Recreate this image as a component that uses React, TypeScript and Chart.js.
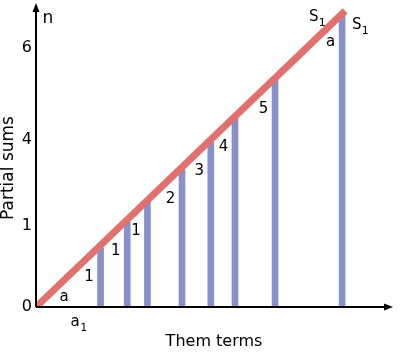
import React, { useEffect, useRef } from "react";
import { Chart, registerables } from "chart.js";

Chart.register(...registerables);

// ---- data ----
const barX = [2.11, 2.98, 3.64, 4.77, 5.71, 6.5, 7.81, 10.0];
const barY = [2.01, 2.9, 3.58, 4.68, 5.63, 6.45, 7.75, 10.03];
const barLabels = ["1", "1", "1", "2", "3", "4", "5", "a"];
const lineX = [0, 10.1];
const lineY = [0, 10.1];
const yTickValues = [0, 2.76, 5.7, 8.84];
const yTickLabels = ["0", "1", "4", "6"];
const xTitle = "Them terms";
const yTitle = "Partial sums";
const noteText = ["n", "a", "a", "S", "S"];
const noteSub = ["", "", "1", "1", "1"];
const noteX = [0.39, 0.92, 1.28, 9.07, 10.48];
const noteY = [9.83, 0.34, -0.5, 9.9, 9.62];

const FONT = "'DejaVu Sans', sans-serif";

const decorPlugin = {
  id: "decor",
  afterDraw(chart: any) {
    const { ctx, chartArea, scales } = chart;
    const xs = scales.x;
    const ys = scales.y;
    const x0 = xs.getPixelForValue(0);
    const y0 = ys.getPixelForValue(0);
    ctx.save();
    // axes with arrows
    ctx.strokeStyle = "#000";
    ctx.fillStyle = "#000";
    ctx.lineWidth = 2;
    ctx.beginPath();
    ctx.moveTo(x0, y0);
    ctx.lineTo(chartArea.right - 6, y0);
    ctx.moveTo(x0, y0);
    ctx.lineTo(x0, chartArea.top + 5);
    ctx.stroke();
    ctx.beginPath();
    ctx.moveTo(chartArea.right + 1, y0);
    ctx.lineTo(chartArea.right - 8, y0 - 3.5);
    ctx.lineTo(chartArea.right - 8, y0 + 3.5);
    ctx.closePath();
    ctx.fill();
    ctx.beginPath();
    ctx.moveTo(x0, chartArea.top - 2);
    ctx.lineTo(x0 - 3.5, chartArea.top + 7);
    ctx.lineTo(x0 + 3.5, chartArea.top + 7);
    ctx.closePath();
    ctx.fill();

    // bar labels
    ctx.textAlign = "center";
    ctx.textBaseline = "middle";
    ctx.font = `15px ${FONT}`;
    const meta = chart.getDatasetMeta(1);
    meta.data.forEach((el: any, i: number) => {
      ctx.fillText(barLabels[i], el.x - 11.5, el.y + 29);
    });

    // notes
    noteText.forEach((t, i) => {
      const px = xs.getPixelForValue(noteX[i]);
      const py = ys.getPixelForValue(noteY[i]);
      ctx.font = t === "n" ? `17px ${FONT}` : `15px ${FONT}`;
      ctx.fillText(t, px, py);
      if (noteSub[i]) {
        ctx.font = `11px ${FONT}`;
        ctx.fillText(noteSub[i], px + 8.5, py + 6);
      }
    });

    // y title
    ctx.font = `17px ${FONT}`;
    ctx.translate(9, (chartArea.top + chartArea.bottom) / 2 + 12);
    ctx.rotate(-Math.PI / 2);
    ctx.fillText(yTitle, 0, 0);
    ctx.restore();
  },
};

export default function App() {
  const ref = useRef<HTMLCanvasElement>(null);
  useEffect(() => {
    const canvas = ref.current;
    if (!canvas) return;
    const chart = new Chart(canvas, {
      type: "bar",
      data: {
        datasets: [
          {
            type: "line",
            data: lineX.map((x, i) => ({ x, y: lineY[i] })),
            borderColor: "#e0716e",
            borderWidth: 7,
            pointRadius: 0,
            order: 0,
          } as any,
          {
            type: "bar",
            data: barX.map((x, i) => ({ x, y: barY[i] })),
            backgroundColor: "#8890c9",
            barThickness: 6,
            order: 1,
          } as any,
        ],
      },
      options: {
        animation: false,
        responsive: true,
        maintainAspectRatio: false,
        layout: { padding: { top: 5, right: 8, left: 0, bottom: 0 } },
        plugins: { legend: { display: false }, tooltip: { enabled: false } },
        scales: {
          x: {
            type: "linear",
            offset: false,
            min: 0,
            max: 11.63,
            grid: { display: false, offset: false },
            border: { display: false },
            ticks: { display: false },
            title: {
              display: true,
              text: xTitle,
              color: "#000",
              font: { family: FONT, size: 16 },
              padding: { top: 0, bottom: 1 },
            },
            afterFit: (s: any) => {
              s.height = 45;
              s.paddingLeft = 0;
              s.paddingRight = 0;
            },
          },
          y: {
            type: "linear",
            min: 0,
            max: 10.3,
            grid: { display: false, drawTicks: false },
            border: { display: false },
            afterBuildTicks: (s: any) => {
              s.ticks = yTickValues.map((v) => ({ value: v }));
            },
            ticks: {
              autoSkip: false,
              padding: 4,
              color: "#000",
              font: { family: FONT, size: 16 },
              callback: (_v: any, i: number) => yTickLabels[i],
            },
            afterFit: (s: any) => {
              s.width = 36;
              s.paddingTop = 0;
              s.paddingBottom = 0;
            },
          },
        },
      },
      plugins: [decorPlugin],
    });
    return () => chart.destroy();
  }, []);
  return (
    <div style={{ position: "fixed", left: 0, top: 0, width: 400, height: 352, background: "#fff" }}>
      <canvas ref={ref} />
    </div>
  );
}
